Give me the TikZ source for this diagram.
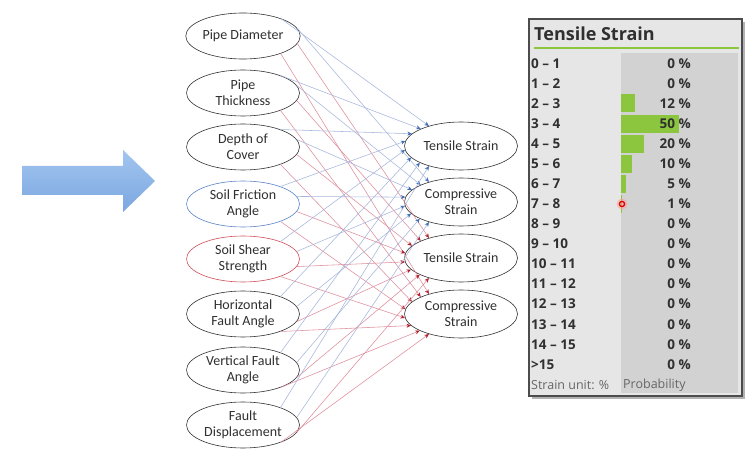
\documentclass[tikz,border=0pt]{standalone}
\usepackage{fontspec}
\setmainfont{Carlito}
\newfontfamily\panelfont{Open Sans}
\usetikzlibrary{arrows.meta,shapes.geometric}
\definecolor{bluel}{HTML}{A6B6DC}
\definecolor{redl}{HTML}{DE8E9C}
\definecolor{bluea}{HTML}{3E6DB8}
\definecolor{reda}{HTML}{B3202E}
\definecolor{bluebd}{HTML}{5B85C8}
\definecolor{redbd}{HTML}{D0505A}
\definecolor{arrowtop}{HTML}{A3C6F0}
\definecolor{arrowbot}{HTML}{7AA6E0}
\definecolor{panelbg}{HTML}{E6E6E6}
\definecolor{colbg}{HTML}{D2D2D2}
\definecolor{bargreen}{HTML}{8CC63E}
\definecolor{textdk}{HTML}{303030}
\tikzset{
  inode/.style={ellipse, draw=black!80, line width=0.6pt, fill=white,
    minimum width=113pt, minimum height=46pt, inner sep=0pt, align=center,
    font=\fontsize{14}{16}\selectfont, text=textdk},
  onode/.style={inode, minimum height=48pt},
  bedge/.style={draw=bluel, line width=0.55pt,
    -{Stealth[length=4.5pt,width=4pt,color=bluea]}},
  redge/.style={draw=redl, line width=0.55pt,
    -{Stealth[length=4.5pt,width=4pt,color=reda]}},
  rowlab/.style={anchor=west, font=\panelfont\bfseries\fontsize{13.5}{14}\selectfont, text=textdk, inner sep=0pt},
  rowval/.style={anchor=east, font=\panelfont\bfseries\fontsize{13.5}{14}\selectfont, text=textdk, inner sep=0pt},
  foot/.style={anchor=west, font=\panelfont\fontsize{12.5}{14}\selectfont, text=black!60, inner sep=0pt}
}
\begin{document}
\begin{tikzpicture}[x=1pt,y=-1pt]
\useasboundingbox (0,0) rectangle (747,449);
\fill[white] (0,0) rectangle (747,449);
% big arrow
\shade[top color=arrowtop, bottom color=arrowbot]
  (22,166) -- (123,166) -- (123,150) -- (155,181) -- (123,212) -- (123,195) -- (22,195) -- cycle;
% input nodes
\node[inode] (in1) at (243,36) {Pipe Diameter};
\node[inode] (in2) at (243,93) {Pipe\\Thickness};
\node[inode] (in3) at (243,147) {Depth of\\Cover};
\node[inode, draw=bluebd] (in4) at (243,204) {Soil Friction\\Angle};
\node[inode, draw=redbd] (in5) at (243,259) {Soil Shear\\Strength};
\node[inode] (in6) at (243,314) {Horizontal\\Fault Angle};
\node[inode] (in7) at (243,370) {Vertical Fault\\Angle};
\node[inode] (in8) at (243,425) {Fault\\Displacement};
% output nodes
\node[onode] (out1) at (461,146) {Tensile Strain};
\node[onode] (out2) at (461,202) {Compressive\\Strain};
\node[onode] (out3) at (461,258) {Tensile Strain};
\node[onode] (out4) at (461,314) {Compressive\\Strain};
% edges
\foreach \i in {1,...,8}{
  \pgfmathsetmacro{\ea}{148+(\i-1)*64/7}
  \draw[bedge] (in\i.25)  -- (out1.\ea);
  \draw[bedge] (in\i.8)   -- (out2.\ea);
  \draw[redge] (in\i.-8)  -- (out3.\ea);
  \draw[redge] (in\i.-25) -- (out4.\ea);
}
% panel
\fill[black!30] (532,22) rectangle (745,399);
\draw[fill=panelbg, draw=black!70, line width=1.2pt] (529,19) rectangle (742,396);
\fill[colbg] (621,53) rectangle (738,393);
\draw[bargreen, line width=2.6pt] (534,48) -- (739,48);
\node[anchor=base west, inner sep=0pt, text=textdk,
  font=\panelfont\bfseries\fontsize{18}{20}\selectfont] (title) at (534,41) {Tensile Strain};
\foreach \lab/\val/\w [count=\k from 0] in
  {0 – 1/0/0, 1 – 2/0/0, 2 – 3/12/14, 3 – 4/50/58, 4 – 5/20/23, 5 – 6/10/11,
   6 – 7/5/5, 7 – 8/1/1, 8 – 9/0/0, 9 – 10/0/0, 10 – 11/0/0, 11 – 12/0/0,
   12 – 13/0/0, 13 – 14/0/0, 14 – 15/0/0, >15/0/0}{
  \pgfmathsetmacro{\yy}{63.3+20.07*\k}
  \ifdim\w pt>0pt \fill[bargreen] (621,\yy-9) rectangle (621+\w,\yy+9); \fi
  \node[rowlab] (lab\k) at (531,\yy) {\lab};
  \node[rowval] (val\k) at (691,\yy) {\val{} \%};
}
\node[foot] (unit) at (531,385.5) {Strain unit: \%};
\node[foot] (prob) at (623,385.5) {Probability};
% cursor marker
\fill[red!40, opacity=0.5] (622,204) circle (5.5pt);
\draw[red!85!black, line width=1.3pt] (622,204) circle (2.6pt);
\end{tikzpicture}
\end{document}
